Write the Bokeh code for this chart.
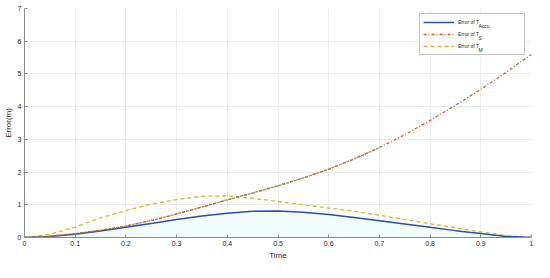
from bokeh.plotting import figure
from bokeh.models import Range1d, FixedTicker, Legend, LegendItem
from bokeh.embed import file_html
from bokeh.resources import INLINE

# ---- data ----
t = [0.0, 0.05, 0.1, 0.15, 0.2, 0.25, 0.3, 0.35, 0.4, 0.45, 0.5,
     0.55, 0.6, 0.65, 0.7, 0.75, 0.8, 0.85, 0.9, 0.95, 1.0]
err_accu = [0.0, 0.03, 0.1, 0.2, 0.31, 0.43, 0.55, 0.66, 0.74, 0.8, 0.81,
            0.77, 0.7, 0.61, 0.51, 0.41, 0.31, 0.21, 0.12, 0.03, 0.0]
err_s = [0.0, 0.04, 0.12, 0.22, 0.35, 0.52, 0.72, 0.93, 1.15, 1.36, 1.58,
         1.82, 2.09, 2.4, 2.75, 3.14, 3.58, 4.04, 4.53, 5.05, 5.6]
err_m = [0.0, 0.1, 0.32, 0.6, 0.82, 1.02, 1.16, 1.26, 1.27, 1.2, 1.1,
         1.0, 0.9, 0.8, 0.68, 0.55, 0.42, 0.3, 0.17, 0.06, 0.0]

x_ticks = [0, 0.1, 0.2, 0.3, 0.4, 0.5, 0.6, 0.7, 0.8, 0.9, 1]
x_tick_labels = ["0", "0.1", "0.2", "0.3", "0.4", "0.5", "0.6", "0.7", "0.8", "0.9", "1"]
y_ticks = [0, 1, 2, 3, 4, 5, 6, 7]
y_tick_labels = ["0", "1", "2", "3", "4", "5", "6", "7"]

legend_main = ["Error of T", "Error of T", "Error of T"]
legend_sub = ["Accu", "S", "M"]
overlay_end = 15  # dark overlay visible on T_S curve up to ~t=0.7

FONT = "Liberation Sans"

p = figure(width=534, height=262, output_backend="svg", toolbar_location=None,
           x_range=Range1d(0, 1), y_range=Range1d(0, 7),
           min_border_left=2, min_border_right=3, min_border_top=8, min_border_bottom=1)
p.outline_line_color = None
p.background_fill_color = "white"

# faint cyan shading under accurate curve
p.varea(x=t, y1=[0] * len(t), y2=err_accu, fill_color="#f2fcfc", fill_alpha=1.0)

r_m = p.line(t, err_m, line_color="#d2b82c", line_width=1.3, line_dash="4 3")
r_accu = p.line(t, err_accu, line_color="#2b4fa6", line_width=1.5)
r_s = p.line(t, err_s, line_color="#e4572e", line_width=1.3, line_dash="3 2 1 2")
p.line(t[:overlay_end], err_s[:overlay_end], line_color="#8a7a3a", line_width=1.3,
       line_dash="1 1")

# axes
for ax in (p.xaxis, p.yaxis):
    ax.axis_line_color = "#8c8c8c"
    ax.major_tick_line_color = "#8c8c8c"
    ax.major_tick_in = 3
    ax.major_tick_out = 0
    ax.minor_tick_line_color = None
    ax.major_label_text_font = FONT
    ax.major_label_text_font_size = "7px"
    ax.major_label_text_color = "#262626"
    ax.axis_label_text_font = FONT
    ax.axis_label_text_font_size = "8px"
    ax.axis_label_text_font_style = "normal"
    ax.axis_label_text_color = "#262626"
    ax.major_label_standoff = 3
    ax.axis_label_standoff = 2

p.xaxis.ticker = FixedTicker(ticks=x_ticks)
p.yaxis.ticker = FixedTicker(ticks=y_ticks)
p.xaxis.major_label_overrides = {tk: lb for tk, lb in zip(x_ticks, x_tick_labels)}
p.yaxis.major_label_overrides = {tk: lb for tk, lb in zip(y_ticks, y_tick_labels)}
p.xaxis.axis_label = "Time"
p.yaxis.axis_label = "Error(m)"

p.xgrid.ticker = FixedTicker(ticks=x_ticks)
p.ygrid.ticker = FixedTicker(ticks=y_ticks)
p.xgrid.grid_line_color = "#ebebeb"
p.ygrid.grid_line_color = "#ebebeb"

# main legend
renderers = [r_accu, r_s, r_m]
lx, ly = 395, 182
pad, gw, gh, sp, stand = 3, 31, 10, 2, 4
legend = Legend(items=[LegendItem(label=lab, renderers=[r])
                       for lab, r in zip(legend_main, renderers)],
                location=(lx, ly), glyph_width=gw, glyph_height=gh, label_height=gh,
                label_width=63, spacing=sp, padding=pad, label_standoff=stand,
                label_text_font=FONT, label_text_font_size="5px",
                label_text_color="#262626", border_line_color="#8c8c8c",
                border_line_width=0.8, background_fill_color="white",
                background_fill_alpha=1.0, margin=0)
p.add_layout(legend)

# subscripts: a second, frameless legend laid over the first one
sub_legend = Legend(items=[LegendItem(label=lab, renderers=[r])
                           for lab, r in zip(legend_sub, renderers)],
                    location=(lx + pad + gw + stand + 21.5, ly + pad - 2.5),
                    glyph_width=0, glyph_height=gh, label_height=gh,
                    spacing=sp, padding=0, label_standoff=0,
                    label_text_font=FONT, label_text_font_size="5px",
                    label_text_color="#262626", border_line_color=None,
                    background_fill_alpha=0.0, margin=0)
p.add_layout(sub_legend)

open("out.html", "w").write(file_html(p, INLINE))
